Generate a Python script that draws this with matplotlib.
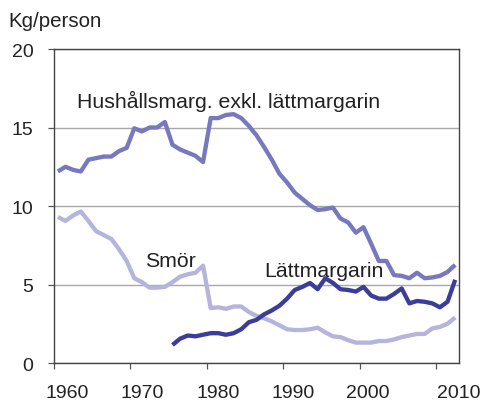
import numpy as np
import matplotlib.pyplot as plt

plt.rcParams['font.family'] = ['Liberation Sans', 'DejaVu Sans']

years = np.arange(1960, 2013)

hushall = [12.2, 12.5, 12.3, 12.2, 12.95, 13.05, 13.15, 13.15, 13.5, 13.7,
           14.95, 14.75, 15.0, 15.0, 15.35, 13.9, 13.6, 13.4, 13.2, 12.8,
           15.6, 15.6, 15.8, 15.85, 15.6, 15.1, 14.5, 13.75, 12.95, 12.05,
           11.5, 10.85, 10.45, 10.05, 9.75, 9.8, 9.9, 9.2, 8.95, 8.3,
           8.65, 7.6, 6.5, 6.5, 5.6, 5.55, 5.4, 5.75, 5.4, 5.45,
           5.55, 5.8, 6.25]

smor = [9.3, 9.05, 9.4, 9.65, 9.05, 8.4, 8.15, 7.9, 7.25, 6.5,
        5.4, 5.15, 4.8, 4.8, 4.85, 5.15, 5.5, 5.65, 5.75, 6.2,
        3.5, 3.55, 3.45, 3.6, 3.6, 3.25, 3.0, 2.85, 2.65, 2.4,
        2.15, 2.1, 2.1, 2.15, 2.25, 1.95, 1.7, 1.65, 1.45, 1.3,
        1.3, 1.3, 1.4, 1.4, 1.5, 1.65, 1.75, 1.85, 1.85, 2.2,
        2.3, 2.5, 2.9]

lattmarg = [np.nan] * 15 + [
    1.15, 1.55, 1.75, 1.7, 1.8, 1.9, 1.9, 1.8, 1.9, 2.15,
    2.6, 2.75, 3.1, 3.35, 3.65, 4.1, 4.65, 4.85, 5.1, 4.7,
    5.4, 5.1, 4.7, 4.65, 4.55, 4.85, 4.3, 4.1, 4.1, 4.4,
    4.75, 3.8, 3.95, 3.9, 3.8, 3.55, 3.9, 5.3]

tick_years = [1960, 1970, 1980, 1990, 2000, 2010]
label_pos = [1.66, 11.58, 21.43, 31.25, 41.1, 53.0]

text_col = '#222222'
x = np.arange(len(years)) + 0.5

fig = plt.figure(figsize=(4.87, 4.02), dpi=100)
ax = fig.add_axes([0.111, 0.0945, 0.8315, 0.7811])

style = dict(lw=3.1, solid_capstyle='butt', solid_joinstyle='round')
ax.plot(x, smor, color='#B4B4DC', zorder=3, **style)
ax.plot(x, hushall, color='#7878BE', zorder=4, **style)
ax.plot(x, lattmarg, color='#3C3C9A', zorder=5, **style)

ax.set_xlim(0, len(years))
ax.set_ylim(0, 20)
ax.set_yticks([0, 5, 10, 15, 20])
ax.set_xticks([0, 10, 20, 30, 40, 50])
ax.set_xticklabels([])
ax.grid(axis='y', color='#A8A8A8', lw=1)
ax.set_axisbelow(True)
ax.tick_params(axis='y', direction='out', length=4.3, width=0.9, pad=10.5,
               labelsize=14, colors='#555555', labelcolor=text_col)
ax.tick_params(axis='x', direction='out', length=4.3, width=0.9,
               colors='#555555')
for s in ax.spines.values():
    s.set_color('#444444')
    s.set_linewidth(1.0)

for yr, px in zip(tick_years, label_pos):
    ax.text(px, -0.1083, str(yr), transform=ax.get_xaxis_transform(),
            ha='center', va='baseline', fontsize=14, color=text_col)

ax.text(3.05, 16.31, 'Hushållsmarg. exkl. lättmargarin', fontsize=15.3,
        color=text_col, va='baseline', ha='left')
ax.text(11.9, 6.16, 'Smör', fontsize=15.3, color=text_col,
        va='baseline', ha='left')
ax.text(27.5, 5.56, 'Lättmargarin', fontsize=15.3, color=text_col,
        va='baseline', ha='left')

fig.text(0.0164, 0.9336, 'Kg/person', fontsize=14.8, color=text_col,
         va='baseline', ha='left')

fig.savefig('out.png', dpi=100)
